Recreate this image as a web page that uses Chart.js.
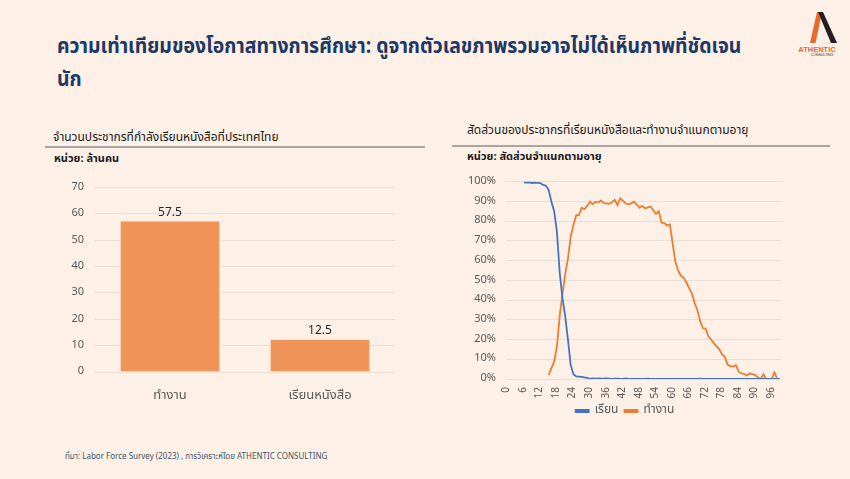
<!DOCTYPE html>
<html lang="th">
<head>
<meta charset="utf-8">
<script src="https://cdn.jsdelivr.net/npm/chart.js@4.4.1/dist/chart.umd.min.js"></script>
<style>
  html, body { margin:0; padding:0; }
  body { width:850px; height:479px; background:#FCF0E7; position:relative; overflow:hidden;
         font-family:"Noto Sans Thai","Noto Sans","DejaVu Sans",sans-serif; }
  .abs { position:absolute; white-space:nowrap; }
  #title { left:57px; top:30px; font-size:21px; line-height:33px; color:#203864; font-weight:bold;
           transform:scaleX(0.925); transform-origin:0 0; }
  .sub { font-size:12px; color:#1a1a1a; }
  .unit { font-size:11px; color:#1a1a1a; font-weight:bold; }
  .rule { position:absolute; height:1.5px; background:#A6A6A6; }
  #foot { left:65px; top:451px; font-size:8px; color:#44546A; }
  canvas { position:absolute; }
</style>
</head>
<body>
<div id="title" class="abs">ความเท่าเทียมของโอกาสทางการศึกษา: ดูจากตัวเลขภาพรวมอาจไม่ได้เห็นภาพที่ชัดเจน<br>นัก</div>

<svg class="abs" style="left:790px;top:0px" width="55" height="60" viewBox="0 0 55 60">
  <polygon points="20,43 25.5,43 32,12 27,12" fill="#E8692B"/>
  <polygon points="28,12 33,12 47,43 41,43" fill="#231F20"/>
  <text x="27" y="51.5" text-anchor="middle" font-family="Liberation Sans, Arial, sans-serif" font-size="7.5" font-weight="bold" fill="#E8692B">ATHENTIC</text>
  <text x="32" y="56" text-anchor="middle" font-family="Liberation Sans, Arial, sans-serif" font-size="3.5" fill="#333">CONSULTING</text>
</svg>

<div class="abs sub" style="left:53px;top:128px">จำนวนประชากรที่กำลังเรียนหนังสือที่ประเทศไทย</div>
<div class="rule" style="left:45px;top:146px;width:380px"></div>
<div class="abs unit" style="left:54px;top:150px">หน่วย: ล้านคน</div>

<div class="abs sub" style="left:467px;top:121px">สัดส่วนของประชากรที่เรียนหนังสือและทำงานจำแนกตามอายุ</div>
<div class="rule" style="left:452px;top:145px;width:378px"></div>
<div class="abs unit" style="left:467px;top:148px">หน่วย: สัดส่วนจำแนกตามอายุ</div>

<canvas id="left" width="370" height="240" style="left:40px;top:170px"></canvas>
<canvas id="right" width="340" height="262" style="left:460px;top:165px"></canvas>

<div id="foot" class="abs">ที่มา: Labor Force Survey (2023) , การวิเคราะห์โดย ATHENTIC CONSULTING</div>

<script>
// ---------- Data ----------
const barCategories = ["ทำงาน", "เรียนหนังสือ"];
const barValues = [57.5, 12.5];
const barTicks = [0, 10, 20, 30, 40, 50, 60, 70];

const ageLabels = [
  "0","1","2","3","4","5","6","7","8","9",
  "10","11","12","13","14","15","16","17","18","19",
  "20","21","22","23","24","25","26","27","28","29",
  "30","31","32","33","34","35","36","37","38","39",
  "40","41","42","43","44","45","46","47","48","49",
  "50","51","52","53","54","55","56","57","58","59",
  "60","61","62","63","64","65","66","67","68","69",
  "70","71","72","73","74","75","76","77","78","79",
  "80","81","82","83","84","85","86","87","88","89",
  "90","91","92","93","94","95","96","97","98","99"
];
const seriesNames = ["เรียน", "ทำงาน"];
// share studying, % by age
const studyShare = [
  null,null,null,null,null,null,99.6,99.5,99.6,99.3,
  99.5,99.4,99.2,98.3,97.9,95.7,89.8,85.0,74.5,54.0,
  41.0,31.8,20.0,7.0,2.4,1.3,1.2,1.1,0.8,0.6,
  0.1,0.3,0.2,0.3,0.2,0.2,0.3,0.2,0.1,0.2,
  0.2,0.1,0.1,0.3,0.1,0.1,0.1,0.1,0.1,0.1,
  0.1,0.2,0.1,0.1,0.1,0.1,0.1,0.1,0.1,0.1,
  0.1,0.1,0.1,0.1,0.1,0.1,0.1,0.1,0.1,0.1,
  0.2,0.1,0.1,0.1,0.1,0.1,0.1,0.1,0.1,0.1,
  0.0,0.0,0.0,0.0,0.0,0.0,0.0,0.0,0.0,0.0,
  0.0,0.0,0.0,0.0,0.0,0.0,0.0,0.0,0.0,0.0
];
// share working, % by age
const workShare = [
  null,null,null,null,null,null,null,null,null,null,
  null,null,null,null,null,2.0,5.5,8.8,16.5,32.0,
  43.0,53.0,61.0,72.0,78.0,83.0,83.0,86.7,86.0,87.7,
  89.8,88.5,89.8,89.4,90.5,89.1,89.0,88.7,89.5,90.8,
  88.1,91.5,90.2,88.9,88.5,89.0,89.8,88.4,86.7,87.7,
  86.4,87.0,87.4,85.5,83.6,85.0,79.2,79.0,77.8,78.3,
  69.0,59.5,55.0,52.3,51.4,49.0,46.0,43.5,38.5,35.0,
  29.3,25.8,25.5,21.6,20.0,18.0,16.5,15.0,12.5,11.2,
  7.2,6.5,6.3,7.0,3.7,2.9,2.5,1.8,2.9,2.5,
  2.0,0.8,0.0,2.4,0.0,0.0,0.0,3.4,0.0,0.0
];
const pctTicks = [0,10,20,30,40,50,60,70,80,90,100];

// ---------- Styles ----------
const FONT = '"Noto Sans Thai","Noto Sans","DejaVu Sans",sans-serif';
const TICK_COLOR = '#595959';
const GRID_COLOR = '#E8E0D8';
const BLUE = '#4472C4';
const ORANGE = '#ED7D31';
const BAR = '#F0955A';

const valueLabels = {
  id: 'valueLabels',
  afterDatasetsDraw(chart) {
    const ctx = chart.ctx;
    ctx.save();
    ctx.font = '12px ' + FONT;
    ctx.fillStyle = '#262626';
    ctx.textAlign = 'center';
    ctx.textBaseline = 'middle';
    chart.getDatasetMeta(0).data.forEach((bar, i) => {
      ctx.fillText(barValues[i].toFixed(1), bar.x, bar.y - 7);
    });
    ctx.restore();
  }
};

new Chart(document.getElementById('left'), {
  type: 'bar',
  data: {
    labels: barCategories,
    datasets: [{ data: barValues, backgroundColor: BAR, borderColor: '#FBE3D2', borderWidth: 1,
                 barPercentage: 0.67, categoryPercentage: 1 }]
  },
  options: {
    responsive: false, animation: false,
    layout: { padding: { left: 0, right: 15, top: 16, bottom: 0 } },
    plugins: { legend: { display: false }, tooltip: { enabled: false } },
    scales: {
      x: {
        grid: { display: false, drawTicks: false }, border: { display: false },
        ticks: { color: TICK_COLOR, font: { size: 13, family: FONT }, padding: 17 },
        afterFit(s) { s.height = 38; }
      },
      y: {
        min: 0, max: 70,
        afterBuildTicks(s) { s.ticks = barTicks.map(v => ({ value: v })); },
        grid: { color: GRID_COLOR, drawTicks: false, lineWidth: 1 }, border: { display: false },
        ticks: { color: TICK_COLOR, font: { size: 11, family: FONT }, padding: 11 },
        afterFit(s) { s.width = 55; }
      }
    }
  },
  plugins: [valueLabels]
});

new Chart(document.getElementById('right'), {
  type: 'line',
  data: {
    labels: ageLabels,
    datasets: [
      { label: seriesNames[0], data: studyShare, borderColor: BLUE, backgroundColor: BLUE,
        borderWidth: 1.8, pointRadius: 0, tension: 0 },
      { label: seriesNames[1], data: workShare, borderColor: ORANGE, backgroundColor: ORANGE,
        borderWidth: 1.8, pointRadius: 0, tension: 0 }
    ]
  },
  options: {
    responsive: false, animation: false,
    layout: { padding: { left: 0, right: 10, top: 8, bottom: 0 } },
    plugins: {
      tooltip: { enabled: false },
      legend: {
        position: 'bottom',
        labels: { color: TICK_COLOR, font: { size: 12, family: FONT }, boxWidth: 13, boxHeight: 2, padding: 6 }
      }
    },
    scales: {
      x: {
        offset: true,
        grid: { display: false, drawTicks: false }, border: { display: false },
        ticks: {
          autoSkip: false, minRotation: 90, maxRotation: 90, padding: 8,
          color: TICK_COLOR, font: { size: 10, family: FONT },
          callback: (v, i) => (i % 6 === 0 ? ageLabels[i] : '')
        },
        afterFit(s) { s.height = 20; }
      },
      y: {
        min: 0, max: 100,
        afterBuildTicks(s) { s.ticks = pctTicks.map(v => ({ value: v })); },
        grid: { color: GRID_COLOR, drawTicks: false }, border: { display: false },
        ticks: { color: TICK_COLOR, font: { size: 11, family: FONT }, padding: 10, callback: v => v + '%' },
        afterFit(s) { s.width = 46; }
      }
    }
  }
});
</script>
</body>
</html>
